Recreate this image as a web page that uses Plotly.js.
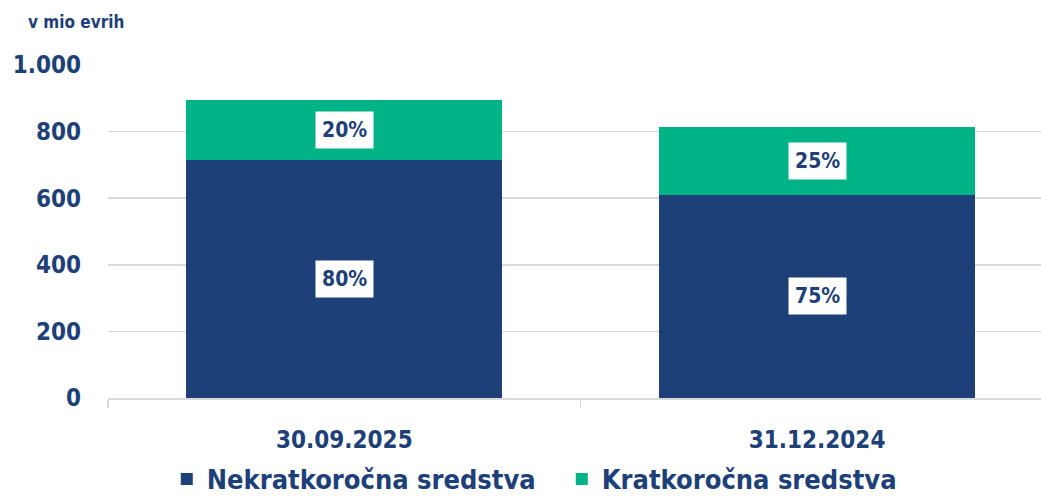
<!DOCTYPE html>
<html><head><meta charset="utf-8">
<script src="https://cdn.plot.ly/plotly-3.0.1.min.js"></script>
<style>html,body{margin:0;padding:0;background:#fff}#chart{width:1041px;height:502px}</style>
</head><body><div id="chart"></div>
<script>
const categories = ["30.09.2025", "31.12.2024"];
const longTerm = [714, 610];
const shortTerm = [181, 204];
const longTermPct = ["80%", "75%"];
const shortTermPct = ["20%", "25%"];
const yTicks = [0, 200, 400, 600, 800, 1000];
const yTickLabels = ["0", "200", "400", "600", "800", "1.000"];

const NAVY = "#1d4079", GREEN = "#00b386";
const FONT = "'Liberation Sans Narrow', 'DejaVu Sans Condensed', Arial, sans-serif";

const traces = [
  {type: "bar", name: "Nekratkoročna sredstva", x: categories, y: longTerm,
   marker: {color: NAVY}, width: 0.668, hoverinfo: "skip"},
  {type: "bar", name: "Kratkoročna sredstva", x: categories, y: shortTerm,
   marker: {color: GREEN}, width: 0.668, hoverinfo: "skip"}
];

const annotations = [];
categories.forEach((c, i) => {
  annotations.push({x: c, y: longTerm[i] / 2, text: "<b>" + longTermPct[i] + "</b>", showarrow: false,
    bgcolor: "#fff", borderpad: 6, font: {family: FONT, size: 21, color: NAVY}});
  annotations.push({x: c, y: longTerm[i] + shortTerm[i] / 2, text: "<b>" + shortTermPct[i] + "</b>", showarrow: false,
    bgcolor: "#fff", borderpad: 6, font: {family: FONT, size: 21, color: NAVY}});
});
annotations.push({xref: "paper", yref: "paper", x: -0.088, y: 1.13, xanchor: "left", yanchor: "middle",
  text: "<b>v mio evrih</b>", showarrow: false, font: {family: FONT, size: 17, color: NAVY}});

const layout = {
  width: 1041, height: 502,
  margin: {l: 107.5, r: 0, t: 65, b: 104, autoexpand: false},
  paper_bgcolor: "#fff", plot_bgcolor: "#fff",
  barmode: "stack",
  font: {family: FONT, color: NAVY},
  xaxis: {type: "category", range: [-0.5, 1.4736], showgrid: false, showline: true, linecolor: "#d9d9d9", linewidth: 1.5,
    ticks: "outside", tickson: "boundaries", ticklen: 8, tickcolor: "#d9d9d9", tickwidth: 1.5,
    tickfont: {family: FONT, size: 24, color: NAVY}, ticklabelstandoff: 20, fixedrange: true, automargin: false},
  yaxis: {range: [0, 1000], tickvals: yTicks, ticktext: yTickLabels.map(t => "<b>" + t + "</b>"),
    showgrid: true, gridcolor: "#d9d9d9", gridwidth: 1.5, zeroline: false, showline: false,
    tickfont: {family: FONT, size: 24, color: NAVY}, ticklabelstandoff: 26, fixedrange: true, automargin: false},
  legend: {orientation: "h", x: 0.063, xanchor: "left", yref: "container", y: 0.045, yanchor: "middle",
    font: {family: FONT, size: 27, color: NAVY}, traceorder: "normal", itemwidth: 30, entrywidth: 350},
  annotations: annotations,
  showlegend: true
};
traces.forEach(t => t.name = "<b>" + t.name + "</b>");
layout.xaxis.ticktext = categories.map(c => "<b>" + c + "</b>");
layout.xaxis.tickvals = categories;

Plotly.newPlot("chart", traces, layout, {displayModeBar: false, staticPlot: true});
</script></body></html>
